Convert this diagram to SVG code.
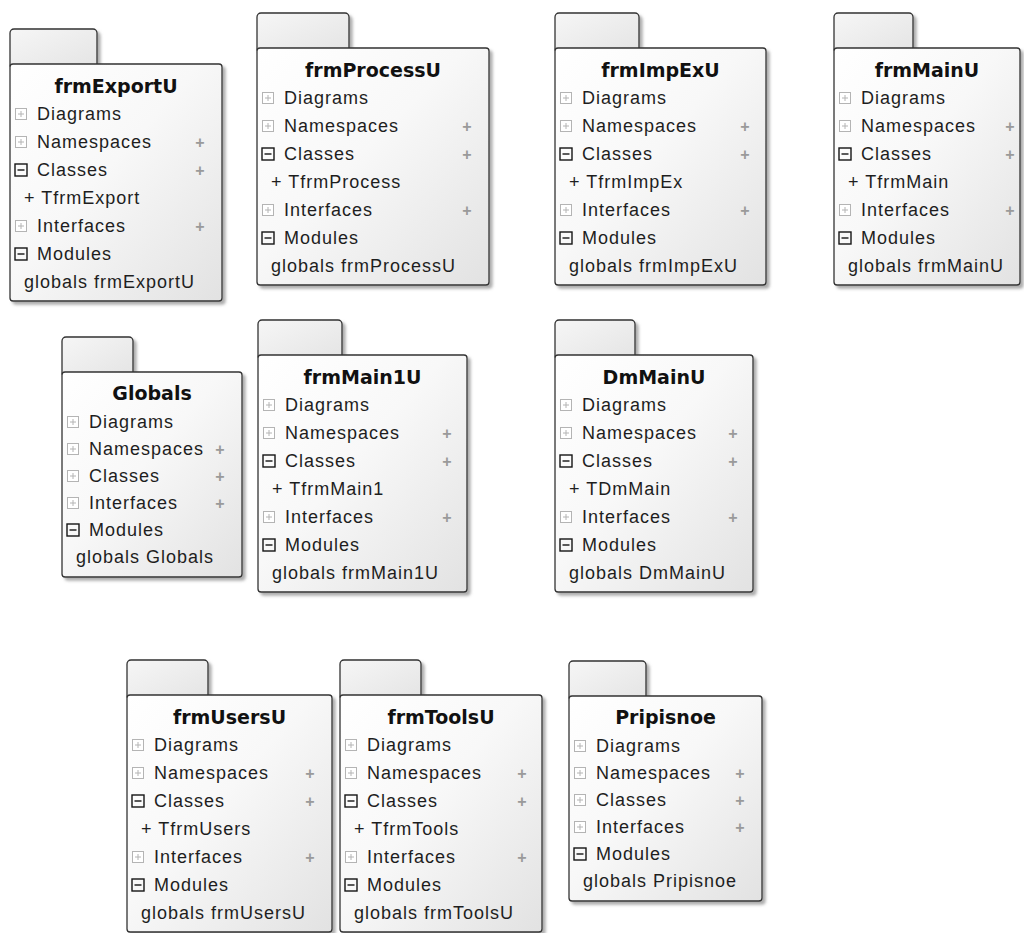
<svg xmlns="http://www.w3.org/2000/svg" width="1024" height="933" viewBox="0 0 1024 933">
<defs>
<linearGradient id="gBody" x1="0" y1="0" x2="1" y2="1">
<stop offset="0" stop-color="#ffffff"/>
<stop offset="0.45" stop-color="#f8f8f8"/>
<stop offset="1" stop-color="#e2e2e2"/>
</linearGradient>
<linearGradient id="gTab" x1="0" y1="0" x2="1" y2="1">
<stop offset="0" stop-color="#f6f6f6"/>
<stop offset="1" stop-color="#e4e4e4"/>
</linearGradient>
<filter id="sh" x="-10%" y="-10%" width="125%" height="125%">
<feDropShadow dx="3" dy="3" stdDeviation="1.6" flood-color="#808080" flood-opacity="0.65"/>
</filter>
<g id="ip"><rect x="-5.5" y="-5.5" width="11" height="11" fill="#ffffff" stroke="#b4b4b4" stroke-width="1"/><path d="M-3 0H3M0 -3V3" stroke="#b4b4b4" stroke-width="1"/></g>
<g id="im"><rect x="-6" y="-6" width="12" height="12" fill="none" stroke="#151515" stroke-width="1.4"/><path d="M-3.5 0H3.5" stroke="#151515" stroke-width="1.4"/></g>
</defs>
<style>
.tab{fill:url(#gTab);stroke:#333;stroke-width:1.3;filter:url(#sh)}
.box{fill:url(#gBody);stroke:#333;stroke-width:1.3;filter:url(#sh)}
.ti{font-family:"DejaVu Sans",sans-serif;font-weight:bold;font-size:19px;text-anchor:middle;fill:#111}
.t{font-family:"Liberation Sans",Arial,sans-serif;font-size:18px;letter-spacing:1px;fill:#1e1e1e}
.pl{font-family:"Liberation Sans",Arial,sans-serif;font-weight:bold;font-size:16px;text-anchor:middle;fill:#9a9a9a}
</style>
<rect width="1024" height="933" fill="#ffffff"/>
<g id="connectors"/>

<g id="frmExportU">
<rect class="tab" x="10" y="29" width="87" height="40" rx="4"/>
<rect class="box" x="10" y="64" width="212" height="237" rx="3"/>
<text class="ti" x="116" y="93">frmExportU</text>
<use href="#ip" x="21" y="114"/><text class="t" x="37" y="120">Diagrams</text>
<use href="#ip" x="21" y="142"/><text class="t" x="37" y="148">Namespaces</text><text class="pl" x="200" y="147.5">+</text>
<use href="#im" x="21" y="170"/><text class="t" x="37" y="176">Classes</text><text class="pl" x="200" y="175.5">+</text>
<text class="t" x="24" y="204">+ TfrmExport</text>
<use href="#ip" x="21" y="226"/><text class="t" x="37" y="232">Interfaces</text><text class="pl" x="200" y="231.5">+</text>
<use href="#im" x="21" y="254"/><text class="t" x="37" y="260">Modules</text>
<text class="t" x="24" y="288">globals frmExportU</text>
</g>

<g id="frmProcessU">
<rect class="tab" x="257" y="13" width="92" height="40" rx="4"/>
<rect class="box" x="257" y="48" width="232" height="237" rx="3"/>
<text class="ti" x="373" y="77">frmProcessU</text>
<use href="#ip" x="268" y="98"/><text class="t" x="284" y="104">Diagrams</text>
<use href="#ip" x="268" y="126"/><text class="t" x="284" y="132">Namespaces</text><text class="pl" x="467" y="131.5">+</text>
<use href="#im" x="268" y="154"/><text class="t" x="284" y="160">Classes</text><text class="pl" x="467" y="159.5">+</text>
<text class="t" x="271" y="188">+ TfrmProcess</text>
<use href="#ip" x="268" y="210"/><text class="t" x="284" y="216">Interfaces</text><text class="pl" x="467" y="215.5">+</text>
<use href="#im" x="268" y="238"/><text class="t" x="284" y="244">Modules</text>
<text class="t" x="271" y="272">globals frmProcessU</text>
</g>

<g id="frmImpExU">
<rect class="tab" x="555" y="13" width="84" height="40" rx="4"/>
<rect class="box" x="555" y="48" width="211" height="237" rx="3"/>
<text class="ti" x="660.5" y="77">frmImpExU</text>
<use href="#ip" x="566" y="98"/><text class="t" x="582" y="104">Diagrams</text>
<use href="#ip" x="566" y="126"/><text class="t" x="582" y="132">Namespaces</text><text class="pl" x="745" y="131.5">+</text>
<use href="#im" x="566" y="154"/><text class="t" x="582" y="160">Classes</text><text class="pl" x="745" y="159.5">+</text>
<text class="t" x="569" y="188">+ TfrmImpEx</text>
<use href="#ip" x="566" y="210"/><text class="t" x="582" y="216">Interfaces</text><text class="pl" x="745" y="215.5">+</text>
<use href="#im" x="566" y="238"/><text class="t" x="582" y="244">Modules</text>
<text class="t" x="569" y="272">globals frmImpExU</text>
</g>

<g id="frmMainU">
<rect class="tab" x="834" y="13" width="79" height="40" rx="4"/>
<rect class="box" x="834" y="48" width="186" height="237" rx="3"/>
<text class="ti" x="927" y="77">frmMainU</text>
<use href="#ip" x="845" y="98"/><text class="t" x="861" y="104">Diagrams</text>
<use href="#ip" x="845" y="126"/><text class="t" x="861" y="132">Namespaces</text><text class="pl" x="1010" y="131.5">+</text>
<use href="#im" x="845" y="154"/><text class="t" x="861" y="160">Classes</text><text class="pl" x="1010" y="159.5">+</text>
<text class="t" x="848" y="188">+ TfrmMain</text>
<use href="#ip" x="845" y="210"/><text class="t" x="861" y="216">Interfaces</text><text class="pl" x="1010" y="215.5">+</text>
<use href="#im" x="845" y="238"/><text class="t" x="861" y="244">Modules</text>
<text class="t" x="848" y="272">globals frmMainU</text>
</g>

<g id="Globals">
<rect class="tab" x="62" y="337" width="71" height="40" rx="4"/>
<rect class="box" x="62" y="372" width="180" height="205" rx="3"/>
<text class="ti" x="152" y="400">Globals</text>
<use href="#ip" x="73" y="422"/><text class="t" x="89" y="428">Diagrams</text>
<use href="#ip" x="73" y="449"/><text class="t" x="89" y="455">Namespaces</text><text class="pl" x="220" y="454.5">+</text>
<use href="#ip" x="73" y="476"/><text class="t" x="89" y="482">Classes</text><text class="pl" x="220" y="481.5">+</text>
<use href="#ip" x="73" y="503"/><text class="t" x="89" y="509">Interfaces</text><text class="pl" x="220" y="508.5">+</text>
<use href="#im" x="73" y="530"/><text class="t" x="89" y="536">Modules</text>
<text class="t" x="76" y="563">globals Globals</text>
</g>

<g id="frmMain1U">
<rect class="tab" x="258" y="320" width="84" height="40" rx="4"/>
<rect class="box" x="258" y="355" width="209" height="237" rx="3"/>
<text class="ti" x="362.5" y="384">frmMain1U</text>
<use href="#ip" x="269" y="405"/><text class="t" x="285" y="411">Diagrams</text>
<use href="#ip" x="269" y="433"/><text class="t" x="285" y="439">Namespaces</text><text class="pl" x="447" y="438.5">+</text>
<use href="#im" x="269" y="461"/><text class="t" x="285" y="467">Classes</text><text class="pl" x="447" y="466.5">+</text>
<text class="t" x="272" y="495">+ TfrmMain1</text>
<use href="#ip" x="269" y="517"/><text class="t" x="285" y="523">Interfaces</text><text class="pl" x="447" y="522.5">+</text>
<use href="#im" x="269" y="545"/><text class="t" x="285" y="551">Modules</text>
<text class="t" x="272" y="579">globals frmMain1U</text>
</g>

<g id="DmMainU">
<rect class="tab" x="555" y="320" width="80" height="40" rx="4"/>
<rect class="box" x="555" y="355" width="198" height="237" rx="3"/>
<text class="ti" x="654" y="384">DmMainU</text>
<use href="#ip" x="566" y="405"/><text class="t" x="582" y="411">Diagrams</text>
<use href="#ip" x="566" y="433"/><text class="t" x="582" y="439">Namespaces</text><text class="pl" x="733" y="438.5">+</text>
<use href="#im" x="566" y="461"/><text class="t" x="582" y="467">Classes</text><text class="pl" x="733" y="466.5">+</text>
<text class="t" x="569" y="495">+ TDmMain</text>
<use href="#ip" x="566" y="517"/><text class="t" x="582" y="523">Interfaces</text><text class="pl" x="733" y="522.5">+</text>
<use href="#im" x="566" y="545"/><text class="t" x="582" y="551">Modules</text>
<text class="t" x="569" y="579">globals DmMainU</text>
</g>

<g id="frmUsersU">
<rect class="tab" x="127" y="660" width="81" height="40" rx="4"/>
<rect class="box" x="127" y="695" width="205" height="237" rx="3"/>
<text class="ti" x="229.5" y="724">frmUsersU</text>
<use href="#ip" x="138" y="745"/><text class="t" x="154" y="751">Diagrams</text>
<use href="#ip" x="138" y="773"/><text class="t" x="154" y="779">Namespaces</text><text class="pl" x="310" y="778.5">+</text>
<use href="#im" x="138" y="801"/><text class="t" x="154" y="807">Classes</text><text class="pl" x="310" y="806.5">+</text>
<text class="t" x="141" y="835">+ TfrmUsers</text>
<use href="#ip" x="138" y="857"/><text class="t" x="154" y="863">Interfaces</text><text class="pl" x="310" y="862.5">+</text>
<use href="#im" x="138" y="885"/><text class="t" x="154" y="891">Modules</text>
<text class="t" x="141" y="919">globals frmUsersU</text>
</g>

<g id="frmToolsU">
<rect class="tab" x="340" y="660" width="81" height="40" rx="4"/>
<rect class="box" x="340" y="695" width="202" height="237" rx="3"/>
<text class="ti" x="441" y="724">frmToolsU</text>
<use href="#ip" x="351" y="745"/><text class="t" x="367" y="751">Diagrams</text>
<use href="#ip" x="351" y="773"/><text class="t" x="367" y="779">Namespaces</text><text class="pl" x="522" y="778.5">+</text>
<use href="#im" x="351" y="801"/><text class="t" x="367" y="807">Classes</text><text class="pl" x="522" y="806.5">+</text>
<text class="t" x="354" y="835">+ TfrmTools</text>
<use href="#ip" x="351" y="857"/><text class="t" x="367" y="863">Interfaces</text><text class="pl" x="522" y="862.5">+</text>
<use href="#im" x="351" y="885"/><text class="t" x="367" y="891">Modules</text>
<text class="t" x="354" y="919">globals frmToolsU</text>
</g>

<g id="Pripisnoe">
<rect class="tab" x="569" y="661" width="77" height="40" rx="4"/>
<rect class="box" x="569" y="696" width="193" height="205" rx="3"/>
<text class="ti" x="665.5" y="724">Pripisnoe</text>
<use href="#ip" x="580" y="746"/><text class="t" x="596" y="752">Diagrams</text>
<use href="#ip" x="580" y="773"/><text class="t" x="596" y="779">Namespaces</text><text class="pl" x="740" y="778.5">+</text>
<use href="#ip" x="580" y="800"/><text class="t" x="596" y="806">Classes</text><text class="pl" x="740" y="805.5">+</text>
<use href="#ip" x="580" y="827"/><text class="t" x="596" y="833">Interfaces</text><text class="pl" x="740" y="832.5">+</text>
<use href="#im" x="580" y="854"/><text class="t" x="596" y="860">Modules</text>
<text class="t" x="583" y="887">globals Pripisnoe</text>
</g>
</svg>
